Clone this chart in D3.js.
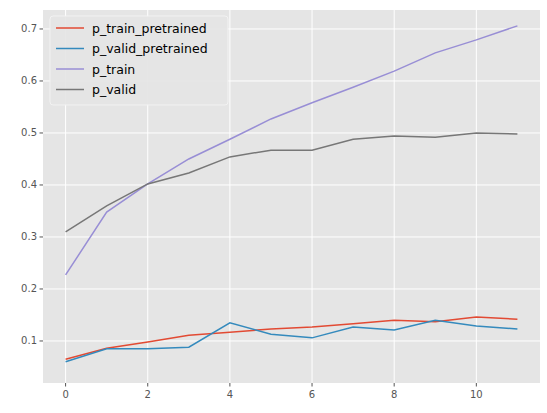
<!DOCTYPE html>
<html><head><script src="https://cdn.jsdelivr.net/npm/d3@7"></script>
<style>body{margin:0;background:#fff}text{font-family:"DejaVu Sans",sans-serif}</style></head>
<body><svg id="c" width="547" height="413"></svg>
<script>
const epochs=[0,1,2,3,4,5,6,7,8,9,10,11];
const seriesNames=["p_train_pretrained","p_valid_pretrained","p_train","p_valid"];
const pTrainPre=[0.065,0.086,0.098,0.111,0.117,0.123,0.127,0.133,0.140,0.137,0.146,0.142];
const pValidPre=[0.060,0.085,0.085,0.088,0.135,0.113,0.106,0.127,0.121,0.140,0.129,0.123];
const pTrain=[0.227,0.348,0.402,0.450,0.488,0.527,0.558,0.588,0.619,0.654,0.679,0.706];
const pValid=[0.310,0.360,0.402,0.423,0.454,0.467,0.467,0.488,0.494,0.492,0.500,0.498];
const colors=["#E24A33","#348ABD","#988ED5","#777777"];
const xTicks=[0,2,4,6,8,10];
const yTicks=[0.1,0.2,0.3,0.4,0.5,0.6,0.7];
const data=[pTrainPre,pValidPre,pTrain,pValid];
const L=43,R=540,T=10,B=383;
const svg=d3.select("#c");
const x=d3.scaleLinear().domain([-0.55,11.55]).range([L,R]);
const y=d3.scaleLinear().domain([0.0192,0.7365]).range([B,T]);
svg.append("rect").attr("x",L).attr("y",T).attr("width",R-L).attr("height",B-T).attr("fill","#E5E5E5");
const g=svg.append("g");
xTicks.forEach(t=>{g.append("line").attr("x1",x(t)).attr("x2",x(t)).attr("y1",T).attr("y2",B).attr("stroke","#fff");
 g.append("line").attr("x1",x(t)).attr("x2",x(t)).attr("y1",B).attr("y2",B+3.5).attr("stroke","#555");
 g.append("text").attr("x",x(t)).attr("y",B+15).attr("text-anchor","middle").attr("font-size",10).attr("fill","#555").text(t);});
yTicks.forEach(t=>{g.append("line").attr("x1",L).attr("x2",R).attr("y1",y(t)).attr("y2",y(t)).attr("stroke","#fff");
 g.append("line").attr("x1",L-3.5).attr("x2",L).attr("y1",y(t)).attr("y2",y(t)).attr("stroke","#555");
 g.append("text").attr("x",L-6).attr("y",y(t)+3.5).attr("text-anchor","end").attr("font-size",10).attr("fill","#555").text(t.toFixed(1));});
const line=d3.line().x((d,i)=>x(epochs[i])).y(d=>y(d));
data.forEach((s,i)=>svg.append("path").attr("d",line(s)).attr("fill","none").attr("stroke",colors[i]).attr("stroke-width",1.5));
const lg=svg.append("g").attr("transform","translate(50,16)");
lg.append("rect").attr("width",178).attr("height",89).attr("rx",3).attr("fill","#E5E5E5").attr("stroke","#f4f4f4").attr("opacity",0.9);
seriesNames.forEach((n,i)=>{const yy=12+i*20.5;
 lg.append("line").attr("x1",6).attr("x2",34).attr("y1",yy).attr("y2",yy).attr("stroke",colors[i]).attr("stroke-width",1.5);
 lg.append("text").attr("x",42).attr("y",yy+4.5).attr("font-size",12.5).attr("fill","#000").text(n);});
</script></body></html>
